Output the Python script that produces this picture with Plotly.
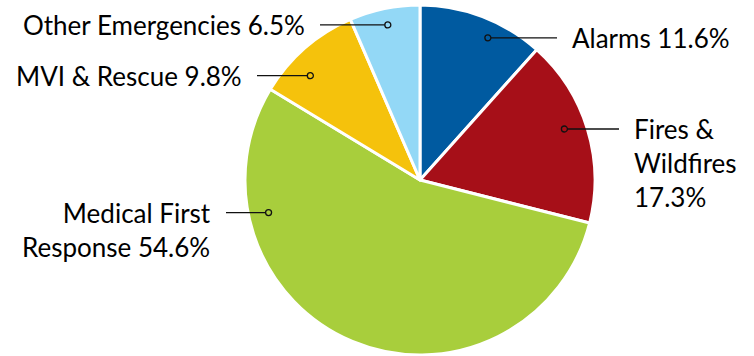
import math
import plotly.graph_objects as go

# Incident share by call type
categories = ["Alarms", "Fires & Wildfires", "Medical First Response",
              "MVI & Rescue", "Other Emergencies"]
shares = [11.6, 17.3, 54.6, 9.8, 6.5]

# Display text: wrapped names and the separator before each percentage
label_names = ["Alarms", "Fires &<br>Wildfires", "Medical First<br>Response",
               "MVI & Rescue", "Other Emergencies"]
value_sep = [" ", "<br>", " ", " ", " "]

colors = ["#005AA0", "#A60F18", "#A8CE3C", "#F5C20C", "#93D8F6"]

W, H = 754, 356
CX, CY, R = 420, 180, 175          # pie centre / radius in pixels

# Leader layout per slice: (position along slice, radius fraction,
# label side, label x in px)
leaders = [
    (0.61, 0.90, "right", 570),
    (0.46, 0.875, "right", 632),
    (0.78, 0.885, "left", 213),
    (0.35, 0.865, "left", 244),
    (0.50, 0.905, "left", 307),
]
GAP = 13
LINE_H = 34.0
FONT = dict(family="Lato, 'Open Sans', sans-serif", size=26, color="#000000")


def px(x):
    return x / W


def py(y):
    return 1 - y / H


fig = go.Figure(go.Pie(
    labels=categories,
    values=shares,
    sort=False,
    direction="clockwise",
    rotation=0,
    marker=dict(colors=colors, line=dict(color="white", width=3)),
    textinfo="none",
    hoverinfo="label+percent",
    domain=dict(x=[px(CX - R), px(CX + R)], y=[py(CY + R), py(CY - R)]),
    showlegend=False,
))

total = sum(shares)
cum = 0.0
shapes, annotations = [], []
for name, sep, v, (pos, kr, side, lx) in zip(label_names, value_sep, shares, leaders):
    theta = 2 * math.pi * (cum + pos * v) / total
    cum += v
    dx = CX + kr * R * math.sin(theta)
    dy = CY - kr * R * math.cos(theta)
    text = f"{name}{sep}{v:.1f}%"
    nlines = text.count("<br>") + 1
    if side == "right":
        x_end = lx - GAP
        x_line0, x_line1 = dx + 3, x_end
        xanchor = "left"
    else:
        x_end = lx + GAP
        x_line0, x_line1 = x_end, dx - 3
        xanchor = "right"
    shapes.append(dict(type="line", xref="paper", yref="paper",
                       x0=px(x_line0), x1=px(x_line1), y0=py(dy), y1=py(dy),
                       line=dict(color="#111111", width=1.3)))
    shapes.append(dict(type="circle", xref="paper", yref="paper",
                       x0=px(dx - 3), x1=px(dx + 3), y0=py(dy - 3), y1=py(dy + 3),
                       line=dict(color="#111111", width=1.3)))
    cy_text = dy + (nlines - 1) / 2 * LINE_H
    annotations.append(dict(xref="paper", yref="paper", x=px(lx), y=py(cy_text),
                            xanchor=xanchor, yanchor="middle", align=xanchor,
                            text=text, showarrow=False, font=FONT))

fig.update_layout(
    width=W, height=H,
    margin=dict(l=0, r=0, t=0, b=0),
    paper_bgcolor="white",
    plot_bgcolor="white",
    shapes=shapes,
    annotations=annotations,
)

fig.write_html("out.html")
